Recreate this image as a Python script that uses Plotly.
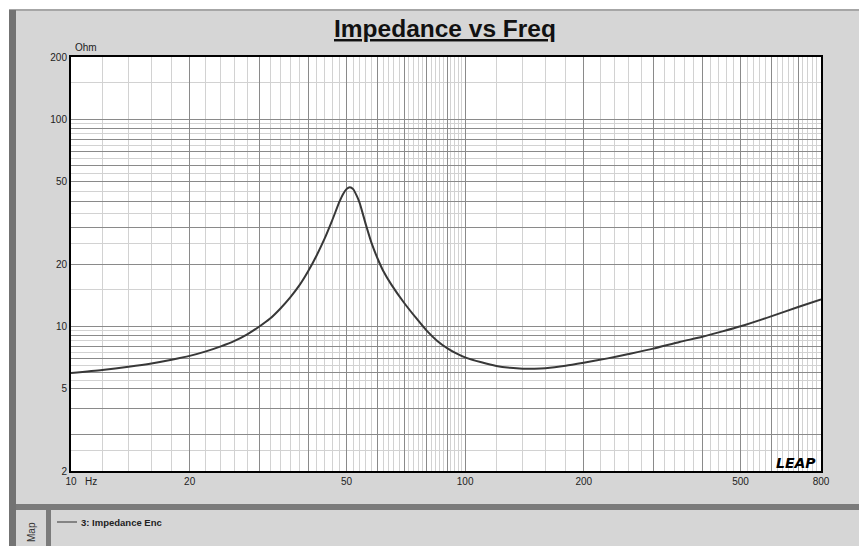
import plotly.graph_objects as go

# ---------------- data ----------------
freq_hz = [10, 12, 14, 16, 18, 20, 22, 24, 26, 28, 30, 32, 34, 36, 38, 40, 42, 44, 46, 48,
           49, 50, 51, 52, 53, 54, 56, 58, 60, 62, 65, 70, 75, 80, 85, 90, 95, 100, 110,
           120, 130, 140, 150, 160, 180, 200, 230, 260, 300, 350, 400, 450, 500, 600, 700, 800]
impedance_ohm = [5.95, 6.15, 6.38, 6.62, 6.9, 7.2, 7.57, 8.0, 8.5, 9.15, 9.95, 10.9, 12.2, 13.8,
                 15.8, 18.5, 22.0, 26.5, 32.5, 40.0, 43.5, 46.0, 47.0, 46.0, 43.0, 39.5, 31.0,
                 25.0, 21.2, 18.5, 15.9, 13.0, 11.0, 9.5, 8.5, 7.85, 7.4, 7.08, 6.7, 6.43, 6.3,
                 6.24, 6.24, 6.28, 6.45, 6.67, 7.0, 7.35, 7.8, 8.4, 8.9, 9.45, 10.0, 11.2, 12.4, 13.5]

x_tick_vals = [10, 20, 30, 40, 50, 60, 70, 80, 90, 100, 200, 300, 400, 500, 600, 700, 800]
x_tick_text = ["10", "20", "", "", "50", "", "", "", "", "100", "200", "", "", "500", "", "", "800"]
x_minor_vals = [12, 14, 16, 18, 22, 24, 26, 28, 32, 34, 36, 38, 42, 44, 46, 48,
                52, 54, 56, 58, 62, 64, 66, 68, 72, 74, 76, 78, 82, 84, 86, 88, 92, 94, 96, 98,
                120, 140, 160, 180, 220, 240, 260, 280, 320, 340, 360, 380,
                420, 440, 460, 480, 520, 540, 560, 580, 620, 640, 660, 680, 720, 740, 760, 780]

y_tick_vals = [2, 3, 4, 5, 6, 7, 8, 9, 10, 20, 30, 40, 50, 60, 70, 80, 90, 100, 200]
y_tick_text = ["2", "", "", "5", "", "", "", "", "10", "20", "", "", "50", "", "", "", "", "100", "200"]
y_minor_vals = [2.5, 5.5, 6.5, 7.5, 8.5, 9.5, 15, 25, 35, 45, 55, 65, 75, 85, 95, 150]

title_text = "Impedance vs Freq"
series_name = "3: Impedance Enc"

# ---------------- layout helpers (screen pixel -> paper) ----------------
OFF = 8                     # default body margin of the html page
SW, SH = 867, 546           # browser window
W, H = SW - OFF, SH - OFF   # figure size
L, R, T, B = 71, 821, 57, 471   # plot area in screen pixels


def px(x):
    return (x - L) / (R - L)


def py(y):
    return (B - y) / (B - T)


FONT = "Liberation Sans, Arial, sans-serif"
GRID_DARK = "#8a8a8a"
GRID_LIGHT = "#d2d2d2"

fig = go.Figure()
fig.add_trace(go.Scatter(
    x=freq_hz, y=impedance_ohm, mode="lines", name=series_name,
    line=dict(color="#383838", width=2, shape="spline", smoothing=0.6),
    hoverinfo="x+y",
))


def rect(x0, y0, x1, y1, color):
    return dict(type="rect", xref="paper", yref="paper",
                x0=px(x0), x1=px(x1), y0=py(y0), y1=py(y1),
                fillcolor=color, line=dict(width=0), layer="above")


shapes = [
    rect(OFF, OFF, SW, 9, "#ffffff"),
    rect(OFF, 9, SW, 11, "#a6a6a6"),
    rect(OFF, OFF, 9, SH, "#ffffff"),
    rect(9, 10, 16, SH, "#737373"),
    rect(16, 504, SW, 510, "#7b7b7b"),
    rect(46, 510, 51, SH, "#7b7b7b"),
    dict(type="line", xref="paper", yref="paper", x0=px(57), x1=px(77), y0=py(522), y1=py(522),
         line=dict(color="#333333", width=1), layer="above"),
]

annotations = [
    dict(text="<b><u>" + title_text + "</u></b>", xref="paper", yref="paper",
         x=px(445), y=py(29), xanchor="center", yanchor="middle", showarrow=False,
         font=dict(family=FONT, size=24.5, color="#111111")),
    dict(text="Ohm", xref="paper", yref="paper", x=px(73), y=py(48), xanchor="left",
         yanchor="middle", showarrow=False, font=dict(family=FONT, size=10, color="#222222")),
    dict(text="Hz", xref="paper", yref="paper", x=px(83), y=py(481), xanchor="left",
         yanchor="middle", showarrow=False, font=dict(family=FONT, size=10, color="#222222")),
    dict(text="<b><i>LEAP</i></b>", xref="paper", yref="paper", x=px(818), y=py(463),
         xanchor="right", yanchor="middle", showarrow=False,
         font=dict(family="DejaVu Sans, sans-serif", size=14, color="#000000")),
    dict(text="<b>" + series_name + "</b>", xref="paper", yref="paper", x=px(79), y=py(522),
         xanchor="left", yanchor="middle", showarrow=False,
         font=dict(family=FONT, size=9.5, color="#222222")),
    dict(text="Map", xref="paper", yref="paper", x=px(31), y=py(532), xanchor="center",
         yanchor="middle", textangle=-90, showarrow=False,
         font=dict(family=FONT, size=10, color="#333333")),
]

axis_common = dict(
    type="log", showline=True, mirror=True, linecolor="#000000", linewidth=2,
    ticks="", showgrid=True, gridcolor=GRID_DARK, gridwidth=1, zeroline=False,
    tickfont=dict(family=FONT, size=10, color="#222222"), tickmode="array",
)

fig.update_layout(
    width=W, height=H, autosize=False,
    margin=dict(l=L - OFF, r=SW - R, t=T - OFF, b=SH - B, pad=0),
    paper_bgcolor="#d6d6d6", plot_bgcolor="#ffffff",
    showlegend=False,
    xaxis=dict(axis_common, range=[1, 2.90309], tickvals=x_tick_vals, ticktext=x_tick_text,
               minor=dict(tickmode="array", tickvals=x_minor_vals, showgrid=True,
                          gridcolor=GRID_LIGHT, gridwidth=1, ticks="")),
    yaxis=dict(axis_common, range=[0.30103, 2.30103], tickvals=y_tick_vals, ticktext=y_tick_text,
               minor=dict(tickmode="array", tickvals=y_minor_vals, showgrid=True,
                          gridcolor=GRID_LIGHT, gridwidth=1, ticks="")),
    shapes=shapes,
    annotations=annotations,
)

fig.write_html("out.html", config=dict(displayModeBar=False))
